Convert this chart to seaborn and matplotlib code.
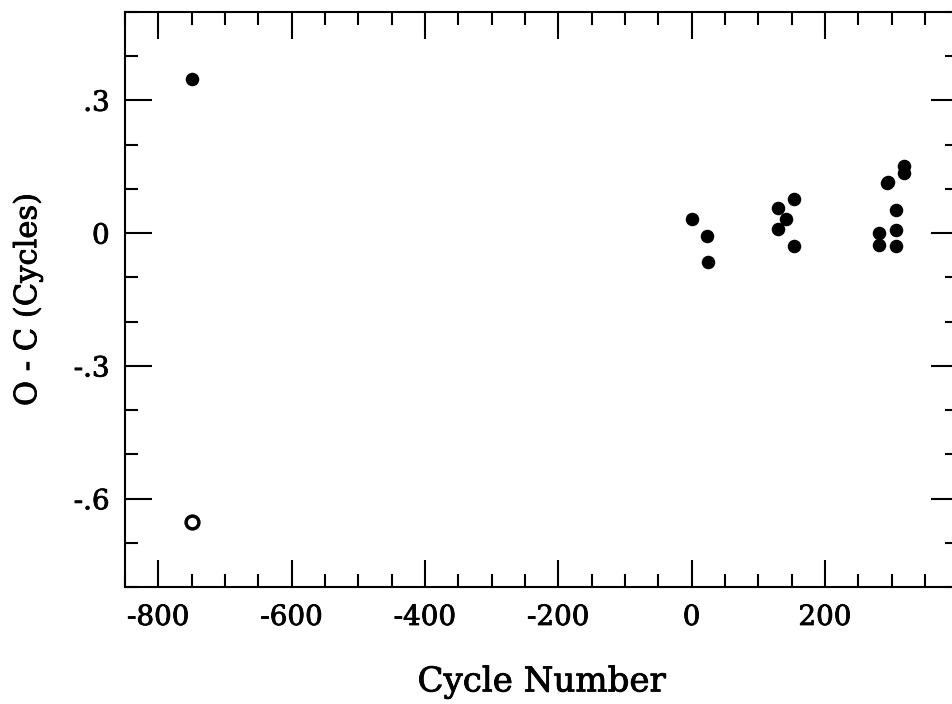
import matplotlib
matplotlib.use("Agg")
import matplotlib.pyplot as plt
import matplotlib.patheffects as pe
import seaborn as sns
import pandas as pd
from matplotlib.ticker import MultipleLocator, FixedLocator, FixedFormatter

# Data
filled_cycle = [-750, 0, 23, 25, 129, 130, 141, 154, 154, 281, 281, 293, 295, 306, 307, 306, 318, 318]
filled_oc = [0.347, 0.031, -0.007, -0.065, 0.056, 0.009, 0.032, 0.077, -0.029,
             0.001, -0.027, 0.114, 0.116, 0.053, 0.007, -0.029, 0.151, 0.136]
open_cycle = [-750]
open_oc = [-0.652]

x_ticks = [-800, -600, -400, -200, 0, 200]
x_labels = ["-800", "-600", "-400", "-200", "0", "200"]
y_ticks = [-0.6, -0.3, 0.0, 0.3]
y_labels = ["-.6", "-.3", "0", ".3"]

sns.set_theme(style="ticks")
plt.rcParams["font.family"] = ["DejaVu Serif"]

df_f = pd.DataFrame({"cycle": filled_cycle, "oc": filled_oc})
df_o = pd.DataFrame({"cycle": open_cycle, "oc": open_oc})

fig = plt.figure(figsize=(9.52, 7.04), dpi=100)
W, H = 952, 704
left, right, top, bottom = 125, 958.3, 11.7, 587.3
ax = fig.add_axes([left / W, 1 - bottom / H, (right - left) / W, (bottom - top) / H])

sns.scatterplot(data=df_f, x="cycle", y="oc", ax=ax, s=95, color="black",
                edgecolor="black", linewidth=0, marker="o", clip_on=False)
sns.scatterplot(data=df_o, x="cycle", y="oc", ax=ax, s=85, facecolor="white",
                edgecolor="black", linewidth=2.5, marker="o", clip_on=False)

ax.set_xlim(-850, 400)
ax.set_ylim(-0.8, 0.5)

ax.xaxis.set_major_locator(FixedLocator(x_ticks))
ax.xaxis.set_major_formatter(FixedFormatter(x_labels))
ax.xaxis.set_minor_locator(MultipleLocator(50))
ax.yaxis.set_major_locator(FixedLocator(y_ticks))
ax.yaxis.set_major_formatter(FixedFormatter(y_labels))
ax.yaxis.set_minor_locator(MultipleLocator(0.1))

for s in ax.spines.values():
    s.set_visible(True)
    s.set_linewidth(1.5)
    s.set_color("black")

ax.tick_params(which="both", direction="in", top=True, right=True,
               width=1.5, color="black", labelsize=20, labelcolor="black")
ax.tick_params(which="major", length=19.5)
ax.tick_params(which="minor", length=9.5)
ax.tick_params(axis="x", which="major", pad=12)
ax.tick_params(axis="y", which="major", pad=11)

thick = [pe.withStroke(linewidth=0.6, foreground="black")]
for lab in ax.get_xticklabels() + ax.get_yticklabels():
    lab.set_path_effects(thick)

ax.set_xlabel("Cycle Number", fontsize=24.5, labelpad=25.5, color="black",
              path_effects=thick)
ax.set_ylabel("O - C (Cycles)", fontsize=22, labelpad=22, color="black",
              path_effects=thick)

fig.savefig("out.png", dpi=100)
